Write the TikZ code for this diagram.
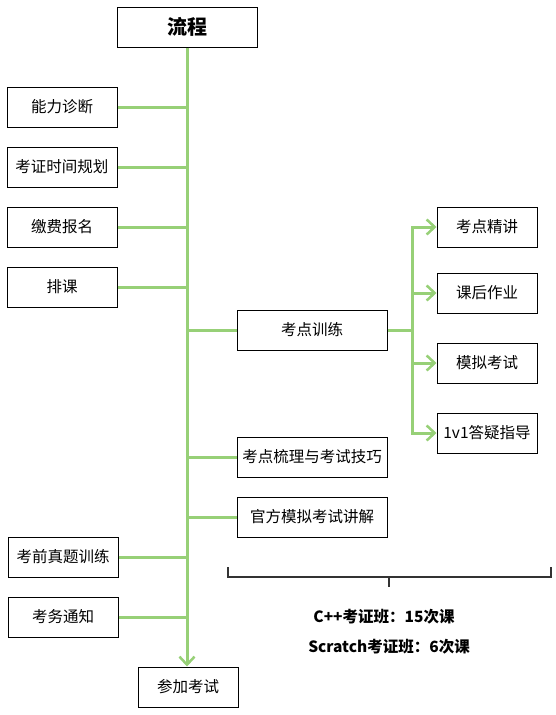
\documentclass[tikz,border=0pt]{standalone}
\usepackage{fontspec}
\setmainfont{Noto Sans CJK SC}
\usetikzlibrary{arrows.meta}
\definecolor{lgreen}{HTML}{97D077}
\definecolor{dgray}{HTML}{333333}
\begin{document}
\begin{tikzpicture}[x=1pt,y=-1pt,
  box/.style={draw=black, line width=1pt, fill=white, inner sep=0pt, minimum height=40pt, font=\fontsize{15.5}{15.5}\selectfont},
  lbox/.style={box, minimum width=110pt},
  mbox/.style={box, minimum width=150pt},
  rbox/.style={box, minimum width=100pt},
  link/.style={draw=lgreen, line width=3pt},
  arr/.style={link, -{Straight Barb[length=8pt,width=15pt,line width=2.5pt]}},
  brk/.style={draw=dgray, line width=2pt},
  note/.style={font=\fontsize{15.5}{15.5}\selectfont\bfseries, text=black}]
\useasboundingbox (0,0) rectangle (556,715);
\fill[white] (0,0) rectangle (556,715);
% nodes
\node[box, minimum width=140pt, font=\fontsize{20}{20}\selectfont\bfseries] (top) at (187,27) {流程};
\node[lbox] (n1) at (62,107) {能力诊断};
\node[lbox] (n2) at (62,167) {考证时间规划};
\node[lbox] (n3) at (62,227) {缴费报名};
\node[lbox] (n4) at (62,287) {排课};
\node[mbox] (kd) at (312,330) {考点训练};
\node[rbox] (r1) at (487,227) {考点精讲};
\node[rbox] (r2) at (487,293) {课后作业};
\node[rbox] (r3) at (487,363) {模拟考试};
\node[rbox] (r4) at (487,433) {1v1答疑指导};
\node[mbox] (s1) at (312,457) {考点梳理与考试技巧};
\node[mbox] (s2) at (312,517) {官方模拟考试讲解};
\node[lbox] (n5) at (63,557) {考前真题训练};
\node[lbox] (n6) at (63,617) {考务通知};
\node[rbox] (fin) at (188,687) {参加考试};
% trunk
\draw[arr] (top.south) -- (top.south |- fin.north);
% left branches
\foreach \n in {n1,n2,n3,n4,n5,n6}
  \draw[link] (\n.east) -- (\n.east -| top.south);
% right branches
\foreach \n in {kd,s1,s2}
  \draw[link] (\n.west -| top.south) -- (\n.west);
% sub branch
\coordinate (bx) at (412,330);
\draw[link] (kd.east) -- (bx);
\draw[link, line cap=rect] (bx |- r1) -- (bx |- r4);
\foreach \n in {r1,r2,r3,r4}
  \draw[arr] (bx |- \n) -- (\n.west);
% bracket
\coordinate (bl) at (228,567);
\coordinate (br) at (551,567);
\coordinate (bm) at (389,577);
\coordinate (bt) at (389,587);
\draw[brk] (bl) -- (bl |- bm) -- (br |- bm) -- (br);
\draw[brk] (bm) -- (bt);
\node[note] (t1) at (384,617) {C++考证班：15次课};
\node[note] (t2) at (389,647) {Scratch考证班：6次课};
\end{tikzpicture}
\end{document}
